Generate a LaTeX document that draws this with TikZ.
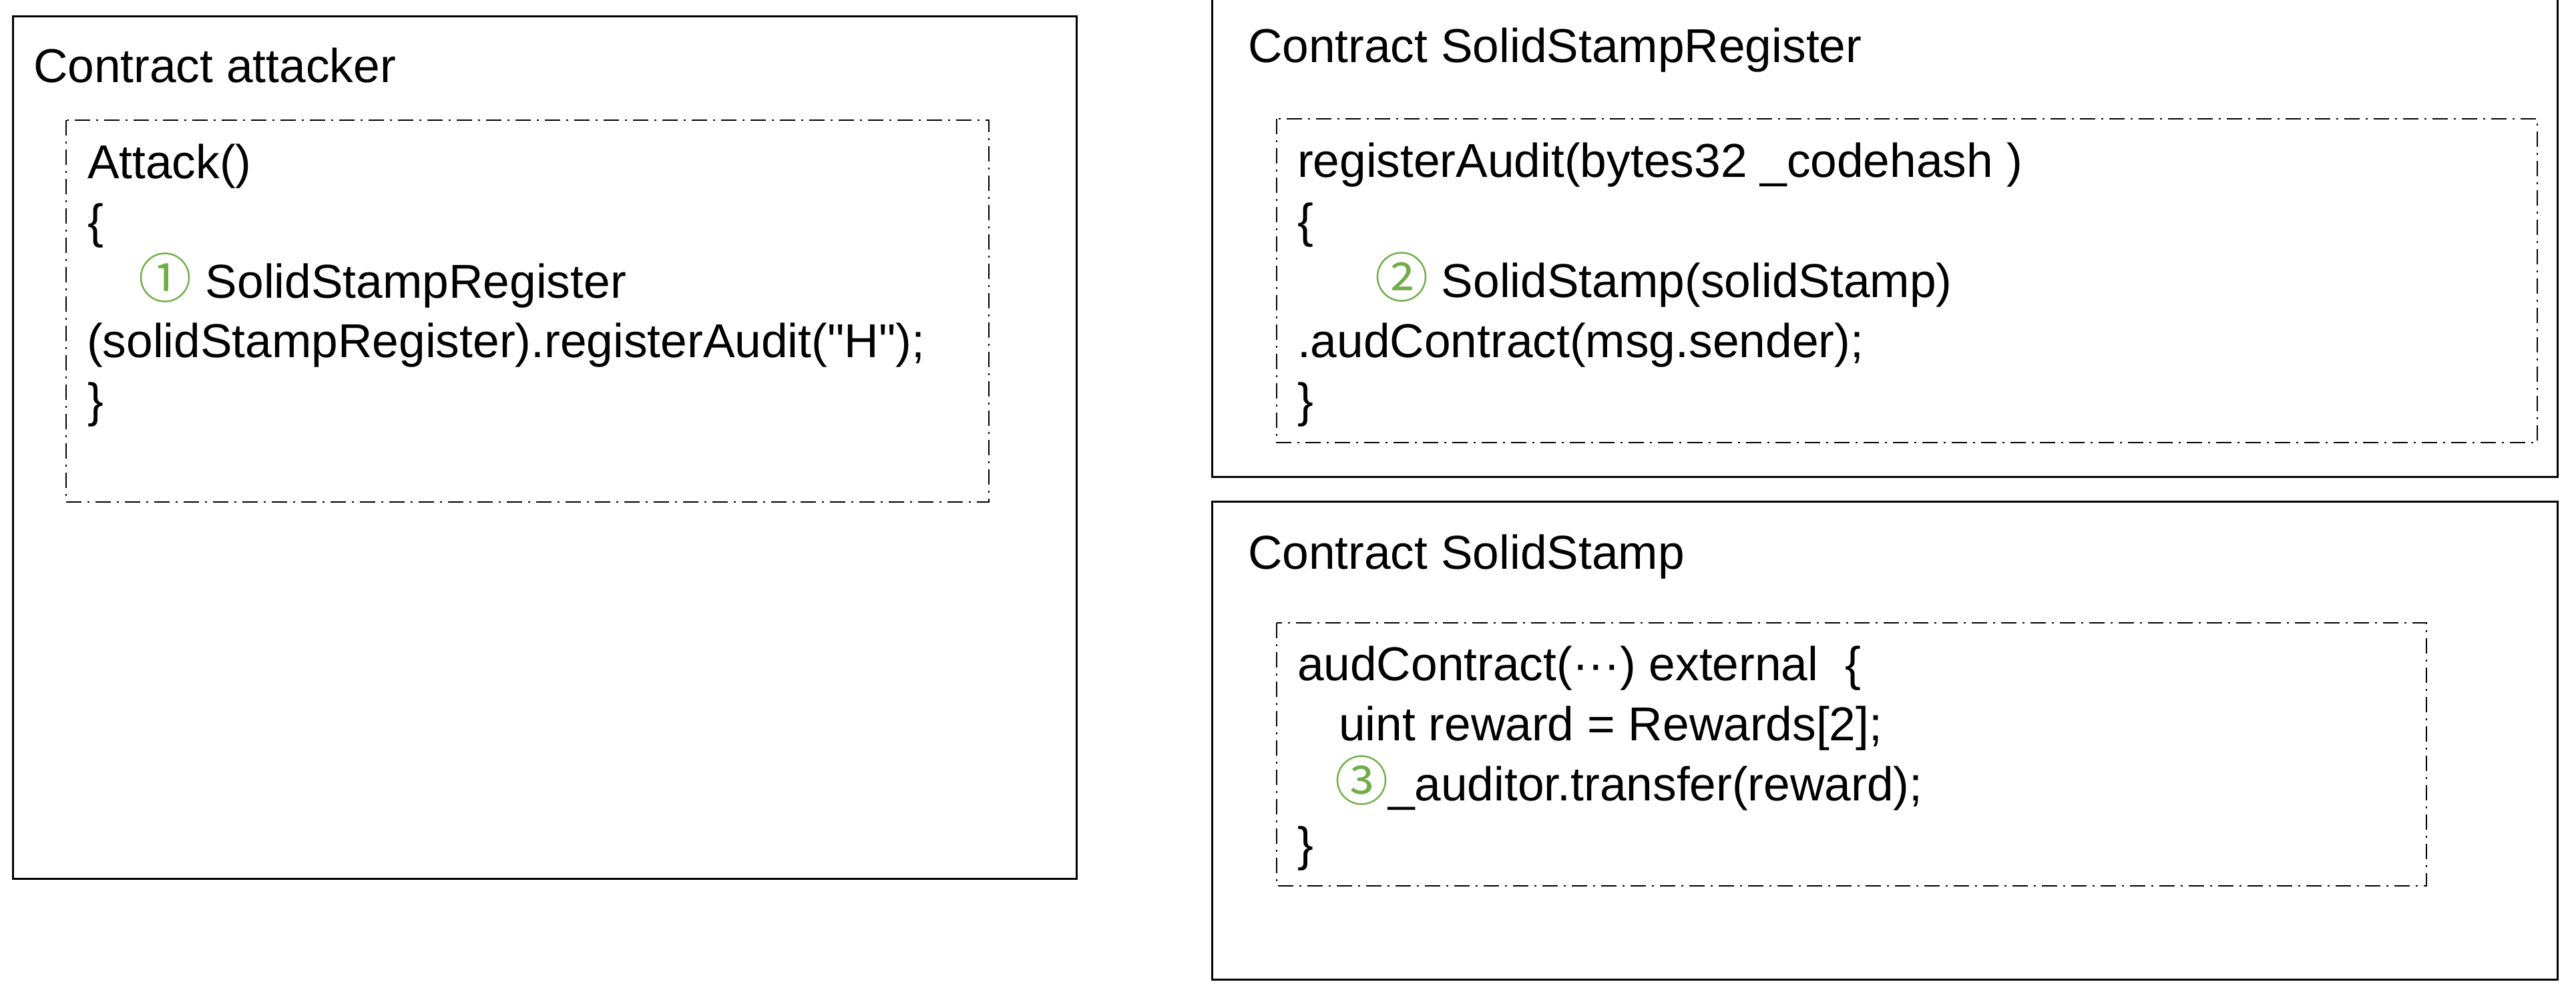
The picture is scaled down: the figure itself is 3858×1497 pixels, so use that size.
\documentclass[tikz,border=0pt]{standalone}
\usepackage{fontspec}
\setmainfont{Liberation Sans}
\newfontfamily\cjk{Noto Sans CJK SC}
\definecolor{stampgreen}{HTML}{70AD47}
\newcommand{\callnum}[1]{{\color{stampgreen}\cjk\fontsize{16pt}{18pt}\selectfont #1}}

\tikzset{
  contractbox/.style={draw, line width=0.6pt},
  codebox/.style={draw, line width=0.5pt, dash pattern=on 4.6pt off 1.8pt on 0.6pt off 1.8pt},
  codeline/.style={anchor=base west, inner sep=0pt, font=\fontsize{14.26pt}{17.9pt}\selectfont}
}

\begin{document}
\begin{tikzpicture}[x=0.2pt, y=-0.2pt]
 \useasboundingbox (0,0) rectangle (3858,1497);
 % contract attacker
 \draw[contractbox] (19,24) rectangle (1612,1316);
 \draw[codebox] (99,180) rectangle (1481,752);
 \node[codeline] (atktitle) at (49,123) {Contract attacker};
 \node[codeline] (atk1) at (130,267) {Attack()};
 \node[codeline] (atk2) at (130,356) {\{};
 \node[codeline] (atk3) at (207,446) {\callnum{①} SolidStampRegister};
 \node[codeline] (atk4) at (129,535) {(solidStampRegister).registerAudit(\textquotedbl H\textquotedbl);};
 \node[codeline] (atk5) at (130,624) {\}};
 % contract SolidStampRegister
 \draw[contractbox] (1815,-20) rectangle (3830,714);
 \draw[codebox] (1912,178) rectangle (3800,663);
 \node[codeline] (regtitle) at (1868,93) {Contract SolidStampRegister};
 \node[codeline] (reg1) at (1942,265) {registerAudit(bytes32 \_codehash )};
 \node[codeline] (reg2) at (1942,355) {\{};
 \node[codeline] (reg3) at (2058,445) {\callnum{②} SolidStamp(solidStamp)};
 \node[codeline] (reg4) at (1942,535) {.audContract(msg.sender);};
 \node[codeline] (reg5) at (1942,624) {\}};
 % contract SolidStamp
 \draw[contractbox] (1815,751) rectangle (3830,1467);
 \draw[codebox] (1912,933) rectangle (3634,1327);
 \node[codeline] (stptitle) at (1868,852) {Contract SolidStamp};
 \node[codeline] (stp1) at (1942,1019) {audContract(···) external\ \ \{};
 \node[codeline] (stp2) at (2004,1109) {uint reward = Rewards[2];};
 \node[codeline] (stp3) at (1998,1199) {\callnum{③}\_auditor.transfer(reward);};
 \node[codeline] (stp4) at (1942,1289) {\}};
\end{tikzpicture}
\end{document}
